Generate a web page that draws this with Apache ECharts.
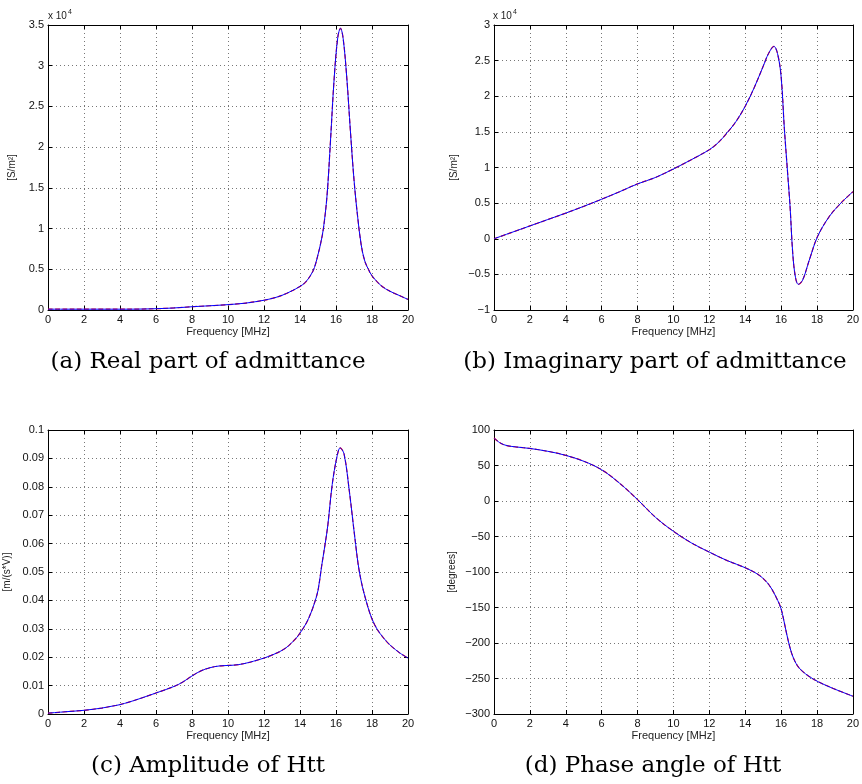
<!DOCTYPE html>
<html><head><meta charset="utf-8">
<script src="https://cdn.jsdelivr.net/npm/echarts@6/dist/echarts.min.js"></script>
<style>html,body{margin:0;padding:0;background:#fff}#c{width:862px;height:784px}</style>
</head><body><div id="c"></div>
<script>
// (a) Real part of admittance [S/m^2]
const freqRe = [0,1,2,3,4,5,6,7,8,9,10,11,12,12.5,13,13.5,14,14.3,14.6,14.8,15,15.15,15.3,15.5,15.7,15.9,16.1,16.25,16.4,16.6,16.8,17,17.2,17.4,17.6,17.8,18,18.5,19,19.5,20];
const admRe  = [100,100,100,100,100,110,160,250,400,520,660,850,1200,1450,1800,2300,2900,3400,4300,5200,6800,8200,10000,14000,21000,28500,33500,34600,33300,28500,22000,16000,11500,8000,6000,5000,4200,3000,2300,1800,1300];
// (b) Imaginary part of admittance [S/m^2]
const freqIm = [0,1,2,3,4,5,6,7,8,9,10,11,12,12.5,13,13.5,14,14.5,15,15.3,15.6,15.8,16.0,16.18,16.37,16.5,16.65,16.8,16.96,17.2,17.57,18.03,18.68,19.33,20];
const admIm  = [0,900,1800,2700,3600,4550,5550,6600,7700,8600,9800,11100,12500,13500,14900,16500,18600,21200,24200,26000,27000,26000,22800,15500,9000,4500,-2100,-5400,-6400,-5800,-3000,300,3100,5000,6600];
// (c) Amplitude of Htt [m/(s*V)]
const freqAmp = [0,1,2,3,3.5,4,4.5,5,6,7,7.5,8,8.5,9,9.5,10.6,11.7,12.5,13.2,13.8,14.0,14.35,14.6,14.8,15.0,15.2,15.4,15.55,15.79,16.05,16.23,16.45,16.75,17.03,17.3,17.68,18.14,18.8,19.5,20];
const ampHtt  = [0.0003,0.0008,0.0013,0.0021,0.0027,0.0033,0.0042,0.0052,0.0074,0.0097,0.0113,0.0134,0.0152,0.0163,0.0169,0.0174,0.0191,0.0209,0.0232,0.0268,0.0285,0.032,0.0355,0.039,0.0435,0.052,0.060,0.0667,0.0808,0.0905,0.0937,0.0915,0.078,0.063,0.05,0.0397,0.0315,0.0256,0.0217,0.0197];
// (d) Phase angle of Htt [degrees]
const freqPh = [0,0.35,0.72,1.28,2,3,4,5,6,7,8,9,10,11,12,13,14,14.8,15.35,15.81,16.0,16.15,16.3,16.5,16.7,17.0,17.5,18.1,18.9,20];
const phaseHtt = [88.7,81.7,78,76,74,70,64.3,56,44,25,2,-23,-42.7,-59,-72,-84,-94,-105,-119,-140,-152,-168,-186,-207,-222,-235,-246,-255,-264,-275];

const captions = ['(a) Real part of admittance','(b) Imaginary part of admittance','(c) Amplitude of Htt','(d) Phase angle of Htt'];
const yNames = ['[S/m\u00b2]','[S/m\u00b2]','[m/(s*V)]','[degrees]'];

const grids = [
  {left:48, top:25, width:360, height:285},
  {left:494, top:25, width:360, height:285},
  {left:48, top:430, width:360, height:284},
  {left:494, top:430, width:360, height:284}
];
const yRanges = [
  {min:0, max:35000, interval:5000, fmt:v=>String(+(v/1e4).toFixed(1)), gap:31},
  {min:-10000, max:30000, interval:5000, fmt:v=>String(+(v/1e4).toFixed(1)), gap:35},
  {min:0, max:0.1, interval:0.01, fmt:v=>String(+v.toFixed(2)), gap:36},
  {min:-300, max:100, interval:50, fmt:v=>String(v), gap:37}
];
const sets = [[freqRe,admRe],[freqIm,admIm],[freqAmp,ampHtt],[freqPh,phaseHtt]];
const FONT = 'Liberation Sans';
const minus = s => s.replace('-', '\u2212');
const pairs = (x,y) => x.map((v,i)=>[v,y[i]]);

const xAxis=[], yAxis=[], series=[];
const frameLine = {show:true, onZero:false, lineStyle:{color:'#000', width:1}};
const tick = {show:true, inside:true, length:4, lineStyle:{color:'#000'}};
const dotted = {show:true, lineStyle:{color:'#777', type:[1,3], width:1}};
grids.forEach((g,i)=>{
  xAxis.push({type:'value', gridIndex:i, position:'bottom', min:0, max:20, interval:2,
    axisLine:frameLine, axisTick:tick, splitLine:dotted,
    axisLabel:{color:'#111', fontSize:11, fontFamily:FONT, margin:4},
    name:'Frequency [MHz]', nameLocation:'middle', nameGap:16,
    nameTextStyle:{color:'#222', fontSize:11, fontFamily:FONT}});
  xAxis.push({type:'value', gridIndex:i, position:'top', min:0, max:20, interval:2,
    axisLine:frameLine, axisTick:tick, splitLine:{show:false}, axisLabel:{show:false}});
  const r = yRanges[i];
  yAxis.push({type:'value', gridIndex:i, position:'left', min:r.min, max:r.max, interval:r.interval,
    axisLine:frameLine, axisTick:tick, splitLine:dotted,
    axisLabel:{color:'#111', fontSize:11, fontFamily:FONT, margin:4, formatter:v=>minus(r.fmt(v))},
    name:yNames[i], nameLocation:'middle', nameGap:r.gap, nameRotate:90,
    nameTextStyle:{color:'#222', fontSize:10, fontFamily:FONT}});
  yAxis.push({type:'value', gridIndex:i, position:'right', min:r.min, max:r.max, interval:r.interval,
    axisLine:frameLine, axisTick:tick, splitLine:{show:false}, axisLabel:{show:false}});
  const d = pairs(sets[i][0], sets[i][1]);
  series.push({type:'line', xAxisIndex:2*i, yAxisIndex:2*i, data:d, showSymbol:false, smooth:0.35,
    lineStyle:{color:'#ff0000', width:1.2, type:'dashed'}, z:2, animation:false});
  series.push({type:'line', xAxisIndex:2*i, yAxisIndex:2*i, data:d, showSymbol:false, smooth:0.35,
    lineStyle:{color:'#0000ff', width:1}, z:3, animation:false});
});

const capPos = [[208,362],[655,362],[208,766],[653,766]];
const graphic = captions.map((t,i)=>({type:'text', x:capPos[i][0], y:capPos[i][1],
  style:{text:t, align:'center', verticalAlign:'middle', fill:'#000', font:'23px "DejaVu Serif"'}}));
[[48,16],[493,16]].forEach(p=>{
  graphic.push({type:'text', x:p[0], y:p[1], style:{text:'x 10', align:'left', verticalAlign:'middle', fill:'#222', font:'10px "Liberation Sans"'}});
  graphic.push({type:'text', x:p[0]+20, y:p[1]-4, style:{text:'4', align:'left', verticalAlign:'middle', fill:'#222', font:'7px "Liberation Sans"'}});
});

const chart = echarts.init(document.getElementById('c'), null, {renderer:'canvas'});
chart.setOption({animation:false, backgroundColor:'#fff', grid:grids, xAxis, yAxis, series, graphic});
</script></body></html>
